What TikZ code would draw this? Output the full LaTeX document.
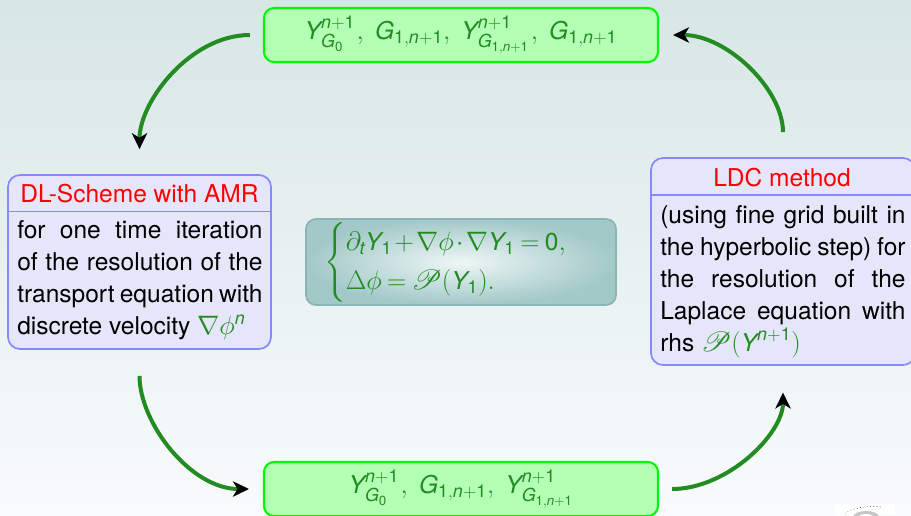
\RequirePackage{fix-cm}
\documentclass[tikz,border=0pt]{standalone}
\usepackage{amsmath,amssymb,mathrsfs}
\usepackage{fontspec}
\setmainfont{TeX Gyre Heros}
\usetikzlibrary{arrows.meta,shadings}
\DeclareMathSizes{18.4}{20}{13.4}{10}
\definecolor{mgreen}{HTML}{228B22}
\definecolor{boxblue}{HTML}{8888FF}
\definecolor{boxfill}{HTML}{E6E6FB}
\definecolor{gfill}{HTML}{B3FFB3}
\definecolor{gline}{HTML}{00FA00}
\definecolor{bgtop}{HTML}{D8E6E6}
\definecolor{bgbot}{HTML}{F8FBFC}
\definecolor{sysline}{HTML}{8AB5B5}
\definecolor{sysin}{HTML}{EEF6F6}
\definecolor{sysout}{HTML}{A3C8C8}
\newcommand{\mY}{\text{\itshape Y}}
\newcommand{\mG}{\text{\itshape G}}
\newcommand{\mn}{\text{\itshape n}}
\newcommand{\mt}{\text{\itshape t}}
\newcommand{\mo}{\text{\upshape 1}}
\newcommand{\mz}{\text{\upshape 0}}
\newcommand{\np}{\mn+\mo}
\newcommand{\gn}{\mG_{\mo,\np}}
\newcommand{\sepy}{\mkern1mu,\mkern4.5mu}
\newcommand{\sepg}{,\mkern4.5mu}
\tikzset{
  x=0.75pt,y=-0.75pt,
  base/.style={font=\fontsize{18.4}{24}\selectfont},
  greenbox/.style={base,draw=gline,line width=1.6pt,fill=gfill,rounded corners=7.5pt,minimum width=295.5pt,minimum height=40.5pt,inner sep=0pt,text=mgreen},
  bluebox/.style={draw=boxblue,line width=1.3pt,fill=boxfill,rounded corners=9pt,inner sep=0pt},
  titletext/.style={base,text=red,inner sep=0pt},
  bodytext/.style={base,text=black,text width=184pt,align=justify,inner sep=0pt,anchor=north west},
  rulestyle/.style={draw=boxblue,line width=1.3pt},
  flow/.style={draw=mgreen,line width=3pt,-{Stealth[black,length=12pt,width=11.5pt,inset=3.5pt]}}
}
\begin{document}
\begin{tikzpicture}
\useasboundingbox (0,0) rectangle (911,515);
\shade[top color=bgtop,bottom color=bgbot] (0,0) rectangle (911,515);
\begin{scope}
\clip (0,0) rectangle (911,515);
% logo fragment
\fill[white] (835,504) rectangle (895,515);
\fill[gray!45] (866,517) ellipse (13 and 6);
\fill[white] (866,517) ellipse (7 and 3);
\draw[black!70,line width=0.5pt,dotted] (845,514) .. controls (850,508) and (870,505) .. (881,507);

\node[greenbox] (top) at (461,35) {$\mY_{\mG_{\mz}}^{\np}\sepy\gn\sepg\mY_{\mG_{\mo,\np}}^{\np}\sepy\gn$};
\node[greenbox] (bottom) at (461,489) {$\mY_{\mG_{\mz}}^{\np}\sepy\gn\sepg\mY_{\mG_{\mo,\np}}^{\np}$};

\node[bluebox,minimum width=197.25pt,minimum height=130.5pt] (left) at (139.5,262) {};
\node[bluebox,minimum width=198pt,minimum height=155.25pt] (right) at (783,261.5) {};
\coordinate (leftrule) at (0,211.5);
\coordinate (rightrule) at (0,195);
\draw[rulestyle] (left.west |- leftrule) -- (left.east |- leftrule);
\draw[rulestyle] (right.west |- rightrule) -- (right.east |- rightrule);
\node[titletext] (lefttitle) at (139.5,193.5) {DL-Scheme with AMR};
\node[titletext] (righttitle) at (782,177.5) {LDC method};
\node[bodytext] (leftbody) at (17,220) {\hyphenpenalty=10000 \tolerance=9999 \hbadness=10000 \hfuzz=5pt for one time iteration\linebreak of the resolution of the\linebreak transport equation with\linebreak discrete velocity \textcolor{mgreen}{$\nabla\phi^{\mn}$}};
\node[bodytext] (rightbody) at (660,205.5) {\hyphenpenalty=10000 \tolerance=9999 \hbadness=10000 \hfuzz=5pt (using fine grid built in\linebreak the hyperbolic step) for\linebreak the resolution of the\linebreak Laplace equation with\linebreak rhs \textcolor{mgreen}{$\mathscr{P}(\mY^{\np})$}};

\node[base,draw=sysline,line width=1.3pt,rounded corners=7.5pt,inner color=sysin,outer color=sysout,minimum width=232.5pt,minimum height=64.5pt,inner sep=0pt] (system) at (461,262) {};
\node[base,text=mgreen,anchor=west,inner sep=0pt] (eqs) at (324,262.5) {\medmuskip=1.6mu\thickmuskip=3.6mu$\begin{cases}\partial_{\mt}\mY_{\mo}+\nabla\phi\cdot\nabla\mY_{\mo}=\mz,\\ \Delta\phi=\mathscr{P}(\mY_{\mo}).\end{cases}$};

\path[flow,shorten <=9.75pt,shorten >=18.75pt] (top.west) to[out=180,in=90,looseness=1] (left.north);
\path[flow,shorten <=19.5pt,shorten >=10.5pt] (left.south) to[out=270,in=180,looseness=1] (bottom.west);
\path[flow,shorten <=9.75pt,shorten >=20pt] (bottom.east) to[out=0,in=270,looseness=1] (right.south);
\path[flow,shorten <=18.75pt,shorten >=10.5pt] (right.north) to[out=90,in=0,looseness=1] (top.east);
\end{scope}
\end{tikzpicture}
\end{document}
